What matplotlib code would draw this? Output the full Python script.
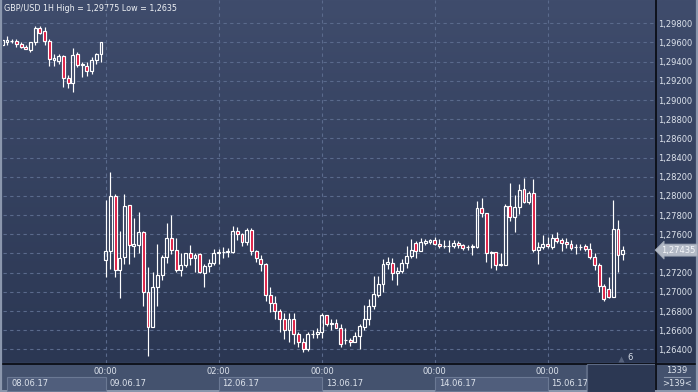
import numpy as np
import matplotlib.pyplot as plt
from matplotlib.patches import Rectangle
from matplotlib.colors import to_rgb

plt.rcParams['font.family'] = ['DejaVu Sans']

# GBP/USD 1H candles, 08.06.17 02:00 -> 15.06.17 16:00
opens = [1.2957, 1.2961, 1.2962, 1.2962, 1.2958, 1.2955, 1.2952, 1.2960, 1.2975, 1.2972,
         1.2962, 1.2942, 1.2941, 1.2946, 1.2923, 1.2918, 1.2948, 1.2937, 1.2936, 1.2930,
         1.2942, 1.2948,
         1.2733, 1.2743, 1.2800, 1.2723, 1.2736, 1.2791, 1.2748, 1.2749, 1.2762, 1.2700,
         1.2663, 1.2705, 1.2718, 1.2736, 1.2756, 1.2744, 1.2723, 1.2728, 1.2740, 1.2735,
         1.2739, 1.2720, 1.2727, 1.2730, 1.2740, 1.2742, 1.2742, 1.2742, 1.2763, 1.2760,
         1.2752, 1.2765, 1.2743, 1.2734, 1.2729, 1.2697, 1.2688, 1.2680, 1.2672, 1.2660,
         1.2672, 1.2656, 1.2648, 1.2640, 1.2656, 1.2656, 1.2658, 1.2676, 1.2666, 1.2668,
         1.2662, 1.2650, 1.2650, 1.2648, 1.2654, 1.2663, 1.2672, 1.2685, 1.2697, 1.2708,
         1.2729, 1.2730, 1.2720, 1.2722, 1.2730, 1.2737, 1.2751, 1.2743, 1.2751, 1.2752,
         1.2754, 1.2750, 1.2748, 1.2748, 1.2748, 1.2751, 1.2749, 1.2747, 1.2747, 1.2747,
         1.2787, 1.2782, 1.2741, 1.2742, 1.2729, 1.2728, 1.2789, 1.2778, 1.2788, 1.2807,
         1.2794, 1.2803, 1.2744, 1.2747, 1.2750, 1.2747, 1.2756, 1.2754, 1.2752, 1.2750,
         1.2747, 1.2747, 1.2748, 1.2745, 1.2736, 1.2728, 1.2706, 1.2703, 1.2695, 1.2766,
         1.2739]
highs = [1.2964, 1.2967, 1.2964, 1.2964, 1.2961, 1.2957, 1.2961, 1.2977, 1.29775, 1.2976,
         1.2964, 1.2948, 1.2948, 1.2947, 1.2926, 1.2954, 1.2950, 1.2940, 1.2940, 1.2945,
         1.2949, 1.2961,
         1.2796, 1.2825, 1.2802, 1.2763, 1.2802, 1.2791, 1.2777, 1.2783, 1.2763, 1.2726,
         1.2721, 1.2750, 1.2738, 1.2772, 1.2780, 1.2756, 1.2741, 1.2741, 1.2749, 1.2740,
         1.2740, 1.2729, 1.2734, 1.2745, 1.2745, 1.2747, 1.2746, 1.2769, 1.2768, 1.2761,
         1.2767, 1.2767, 1.2744, 1.2738, 1.2730, 1.2705, 1.2696, 1.2682, 1.2678, 1.2678,
         1.2678, 1.2658, 1.2652, 1.2658, 1.2660, 1.2662, 1.2678, 1.2676, 1.2672, 1.2672,
         1.2666, 1.2662, 1.2652, 1.2658, 1.2666, 1.2686, 1.2693, 1.2716, 1.2716, 1.2734,
         1.2736, 1.2735, 1.2726, 1.2734, 1.2748, 1.2755, 1.2753, 1.2756, 1.2755, 1.2755,
         1.2757, 1.2755, 1.2754, 1.2754, 1.2754, 1.2753, 1.2750, 1.2749, 1.2750, 1.2795,
         1.2798, 1.2782, 1.2743, 1.2742, 1.2741, 1.2792, 1.2813, 1.2801, 1.2812, 1.2819,
         1.2805, 1.2818, 1.2752, 1.2759, 1.2757, 1.2760, 1.2762, 1.2756, 1.2756, 1.2754,
         1.2750, 1.2750, 1.2750, 1.2751, 1.2740, 1.2730, 1.2708, 1.2715, 1.2796, 1.2775,
         1.2748]
lows = [1.2956, 1.2957, 1.2959, 1.2955, 1.2954, 1.2953, 1.2950, 1.2957, 1.2969, 1.2957,
        1.2936, 1.2936, 1.2938, 1.2914, 1.2913, 1.2908, 1.2934, 1.2924, 1.2925, 1.2927,
        1.2938, 1.2940,
        1.2715, 1.2724, 1.2715, 1.2694, 1.2729, 1.2729, 1.2736, 1.2741, 1.2685, 1.2633,
        1.2663, 1.2685, 1.2712, 1.2730, 1.2739, 1.2721, 1.2717, 1.2726, 1.2728, 1.2721,
        1.2720, 1.2705, 1.2721, 1.2728, 1.2729, 1.2735, 1.2736, 1.2740, 1.2754, 1.2748,
        1.2749, 1.2738, 1.2731, 1.2722, 1.2690, 1.2679, 1.2672, 1.2658, 1.2651, 1.2648,
        1.2646, 1.2642, 1.2637, 1.2638, 1.2652, 1.2652, 1.2652, 1.2664, 1.2660, 1.2662,
        1.2642, 1.2646, 1.2644, 1.2648, 1.2640, 1.2660, 1.2665, 1.2682, 1.2695, 1.2700,
        1.2724, 1.2712, 1.2707, 1.2720, 1.2725, 1.2735, 1.2735, 1.2743, 1.2749, 1.2750,
        1.2749, 1.2746, 1.2746, 1.2742, 1.2746, 1.2746, 1.2744, 1.2744, 1.2738, 1.2746,
        1.2778, 1.2731, 1.2725, 1.2723, 1.2727, 1.2728, 1.2774, 1.2762, 1.2781, 1.2793,
        1.2792, 1.2742, 1.2729, 1.2745, 1.2746, 1.2745, 1.2751, 1.2743, 1.2746, 1.2744,
        1.2739, 1.2744, 1.2743, 1.2734, 1.2723, 1.2700, 1.2690, 1.2694, 1.2695, 1.2721,
        1.2733]
closes = [1.2963, 1.2963, 1.2962, 1.2958, 1.2955, 1.2953, 1.2960, 1.2975, 1.2970, 1.2962,
          1.2943, 1.2944, 1.2946, 1.2923, 1.2918, 1.2947, 1.2937, 1.2938, 1.2930, 1.2942,
          1.2948, 1.2960,
          1.2743, 1.2800, 1.2723, 1.2735, 1.2790, 1.2749, 1.2750, 1.2762, 1.2700, 1.2663,
          1.2705, 1.2718, 1.2736, 1.2756, 1.2744, 1.2723, 1.2728, 1.2740, 1.2735, 1.2738,
          1.2721, 1.2727, 1.2730, 1.2740, 1.2742, 1.2742, 1.2743, 1.2763, 1.2760, 1.2752,
          1.2765, 1.2743, 1.2735, 1.2729, 1.2697, 1.2688, 1.2680, 1.2672, 1.2660, 1.2672,
          1.2656, 1.2648, 1.2640, 1.2656, 1.2656, 1.2658, 1.2676, 1.2666, 1.2668, 1.2662,
          1.2646, 1.2650, 1.2648, 1.2654, 1.2664, 1.2672, 1.2685, 1.2698, 1.2708, 1.2729,
          1.2731, 1.2720, 1.2722, 1.2730, 1.2737, 1.2744, 1.2743, 1.2752, 1.2753, 1.2754,
          1.2750, 1.2748, 1.2748, 1.2748, 1.2751, 1.2749, 1.2746, 1.2747, 1.2748, 1.2787,
          1.2782, 1.2741, 1.2742, 1.2728, 1.2728, 1.2789, 1.2778, 1.2788, 1.2806, 1.2794,
          1.2803, 1.2744, 1.2747, 1.2750, 1.2748, 1.2756, 1.2753, 1.2751, 1.2750, 1.2746,
          1.2747, 1.2747, 1.2745, 1.2736, 1.2728, 1.2706, 1.2693, 1.2695, 1.2766, 1.2738,
          1.27435]

# session boundaries (candle index) and their labels
grid_idx = [22, 46, 68, 92, 116]
time_labels = ['00:00', '02:00', '00:00', '00:00', '00:00']
day_labels = ['08.06.17', '09.06.17', '12.06.17', '13.06.17', '14.06.17', '15.06.17']
day_starts = [2.0, 22, 46, 68, 92, 116]
price_ticks = np.arange(1.2640, 1.29801, 0.002)

O = np.array(opens); Hh = np.array(highs); L = np.array(lows); C = np.array(closes)
x = np.arange(len(O))

W, H = 698, 392
fig = plt.figure(figsize=(W / 100, H / 100), dpi=100)

def pxbox(l, t, r, b):
    return [l / W, 1 - b / H, (r - l) / W, (b - t) / H]

txt = '#dde3ec'
red = '#dc143c'
fs = 6.0

# background layer in pixel coordinates
bg = fig.add_axes([0, 0, 1, 1])
bg.set_xlim(0, W); bg.set_ylim(H, 0); bg.axis('off')
top_c, bot_c = np.array(to_rgb('#3f4c6c')), np.array(to_rgb('#2b3753'))
t = np.linspace(0, 1, 200)[:, None, None]
grad = top_c * (1 - t) + bot_c * t
bg.imshow(grad, extent=(0, W, 363, 0), aspect='auto', interpolation='bilinear')
bg.add_patch(Rectangle((0, 363), W, H - 363, color='#44526e'))
bg.add_patch(Rectangle((586, 364), 69, 27, fc='#2c3853', ec='#5d6a84', lw=0.8))
bg.plot([655.5, 655.5], [0, H], color='#0b0e16', lw=1.3)
bg.plot([0, W], [363.5, 363.5], color='#0b0e16', lw=1.3)
bg.plot([1, 1], [0, H], color='#8b97ad', lw=1.6)
bg.plot([697, 697], [0, H], color='#8b97ad', lw=1.6)
bg.plot([0, W], [391, 391], color='#8b97ad', lw=1.4)
bg.text(4, 8, 'GBP/USD 1H High = 1,29775 Low = 1,2635', fontsize=5.8, color='#eef1f5',
        va='center', ha='left')
bg.text(677, 370.5, '1339', fontsize=fs, color=txt, ha='center', va='center')
bg.plot([664, 690], [376.5, 376.5], color='#8a96ab', lw=0.8)
bg.text(677, 383, '>139<', fontsize=fs, color=txt, ha='center', va='center')
bg.plot([621], [358.5], marker='^', ms=4, color='#57637d', mec='none')
bg.text(630, 358, '6', fontsize=fs, color=txt, ha='center', va='center')

# main chart
ax = fig.add_axes(pxbox(3, 0, 655, 363))
ax.patch.set_alpha(0)
ax.set_xlim(0.15, 138.87)
ax.set_ylim(1.26258, 1.30043)
for s in ax.spines.values():
    s.set_visible(False)

up = C >= O
lo_body = np.minimum(O, C); hi_body = np.maximum(O, C)
ax.vlines(x, hi_body, Hh, color='white', lw=0.85, zorder=3)
ax.vlines(x, L, lo_body, color='white', lw=0.85, zorder=3)
ax.bar(x, hi_body - lo_body, bottom=lo_body, width=0.6,
       color=['none' if u else red for u in up], edgecolor='white', linewidth=0.85, zorder=4)

last_txt = f'{C[-1]:.5f}'.replace('.', ',')
ax.set_yticks(price_ticks)
# the tick label behind the last-price marker is hidden, as in the terminal
ax.set_yticklabels(['' if abs(v - C[-1]) < 0.001 else f'{v:.5f}'.replace('.', ',')
                    for v in price_ticks])
ax.yaxis.tick_right()
ax.set_xticks(grid_idx)
ax.set_xticklabels(time_labels)
ax.tick_params(axis='both', length=0, labelsize=fs, labelcolor=txt)
ax.tick_params(axis='y', pad=2.3)
ax.tick_params(axis='x', pad=3.2)
ax.grid(True, color='#5a6a8c', lw=0.8, linestyle=(0, (3, 3)))

# last price marker
ax.text(1.01, C[-1], last_txt, transform=ax.get_yaxis_transform(),
        fontsize=fs, color='#f5f7fa', ha='left', va='center', clip_on=False, zorder=6,
        bbox=dict(boxstyle='larrow,pad=0.18', fc='#b3bac6', ec='#9aa3b2', lw=0.6))

# date strip
axb = fig.add_axes(pxbox(3, 364, 655, 392), sharex=ax)
axb.patch.set_visible(False)
axb.set_ylim(0, 1)
axb.axis('off')
for a, b in [(day_starts[0] - 1.0, grid_idx[0]), (grid_idx[1], grid_idx[2]), (grid_idx[3], grid_idx[4])]:
    axb.add_patch(Rectangle((a, 0.04), b - a, 0.48, fc='#505e7c', ec='#6b7994', lw=0.8))
for d, s in zip(day_labels, day_starts):
    off = 0 if s == day_starts[0] else 0.85
    axb.text(s + off, 0.3, d, fontsize=fs, color=txt, ha='left', va='center')
# dark strip on the right hides the end of the last date label
axb.add_patch(Rectangle((124.4, 0.0), 138.87 - 124.4, 1.0, fc='#2c3853', ec='#5d6a84',
                        lw=0.8, zorder=5))

fig.savefig('out.png', dpi=100)
